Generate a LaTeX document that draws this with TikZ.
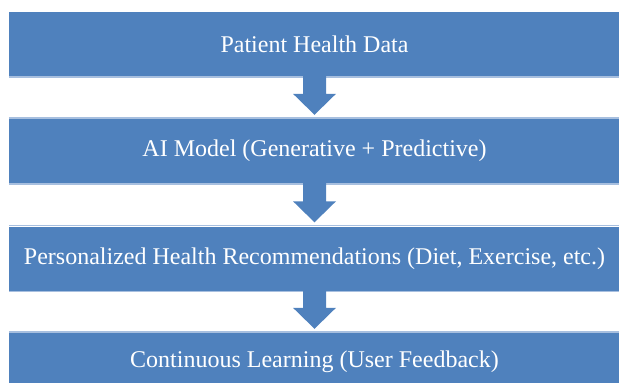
\documentclass[tikz,border=0pt]{standalone}
\usepackage{fontspec}
\setmainfont{Liberation Serif}
\usetikzlibrary{calc}
\definecolor{boxblue}{HTML}{4F81BD}
\definecolor{edgeglow}{HTML}{A7BFDF}
\tikzset{
  stepbox/.style={fill=boxblue, draw=none, text=white, inner sep=0pt,
    minimum width=611pt, minimum height=64pt,
    font=\fontsize{24}{28}\selectfont},
  glowline/.style={draw=edgeglow, line width=1.2pt},
  flowfill/.style={fill=boxblue, draw=none}
}
% block arrow from the bottom of one box down to the top of the next
\newcommand{\flowarrow}[2]{%
  \fill[flowfill]
    ($(#1.south)+(-11.5,0)$) -- ($(#1.south)+(11.5,0)$) --
    ($(#2.north)+(11.5,-25)$) -- ($(#2.north)+(21.5,-25)$) --
    ($(#2.north)+(0,-4)$) --
    ($(#2.north)+(-21.5,-25)$) -- ($(#2.north)+(-11.5,-25)$) -- cycle;}
\begin{document}
\begin{tikzpicture}[x=1pt,y=-1pt]
  \useasboundingbox (0,0) rectangle (619,383);
  \clip (0,0) rectangle (619,383);
  \node[stepbox] (b1) at (314.5,44) {Patient Health Data};
  \node[stepbox] (b2) at (314.5,151) {AI Model (Generative + Predictive)};
  \node[stepbox] (b3) at (314.5,258.5) {Personalized Health Recommendations (Diet, Exercise, etc.)};
  \node[stepbox, minimum height=58pt] (b4) at (314.5,362) {Continuous Learning (User Feedback)};
  % faint light edge under each box
  \foreach \b in {b1,b2,b3}{
    \draw[glowline] ($(\b.south west)+(0,0.8)$) -- ($(\b.south east)+(0,0.8)$);
  }
  \foreach \b in {b2,b3,b4}{
    \draw[glowline] ($(\b.north west)+(0,-0.8)$) -- ($(\b.north east)+(0,-0.8)$);
  }
  \flowarrow{b1}{b2}
  \flowarrow{b2}{b3}
  \flowarrow{b3}{b4}
\end{tikzpicture}
\end{document}
